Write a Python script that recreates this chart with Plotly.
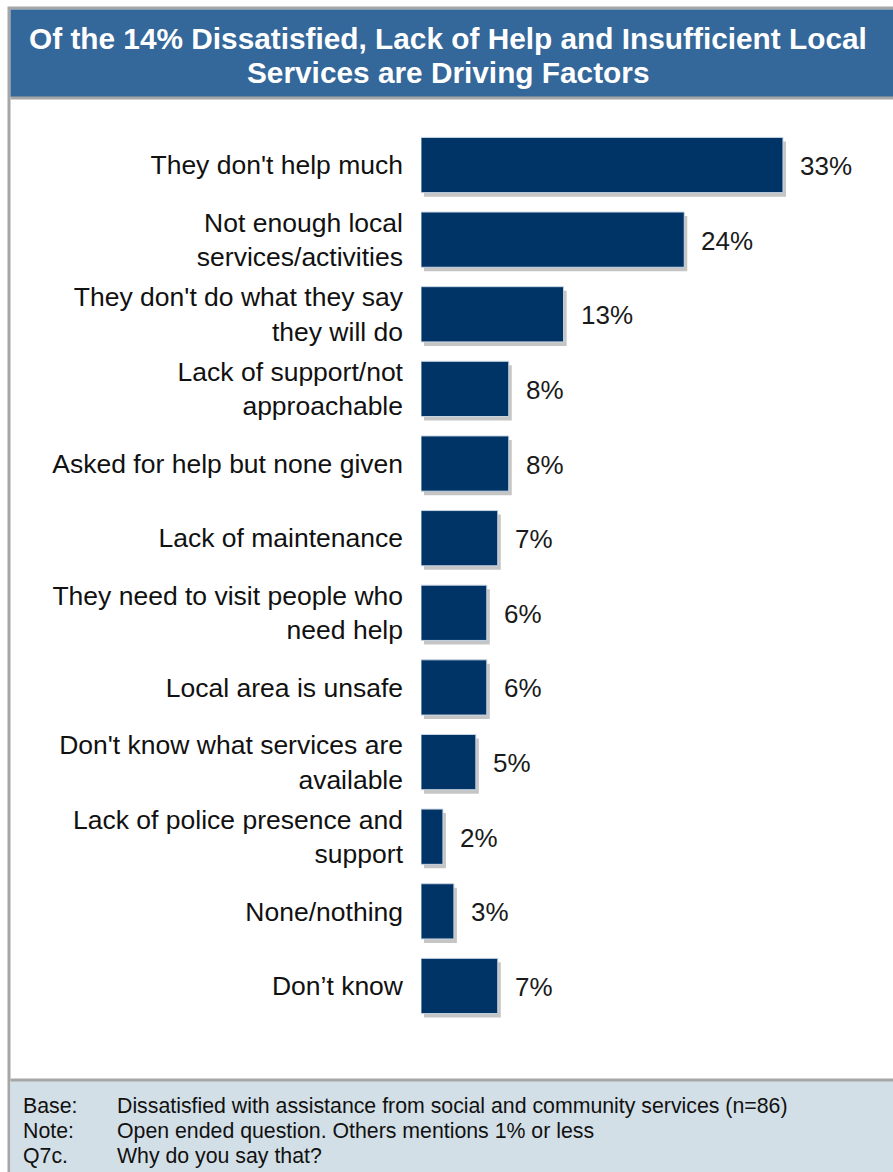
import plotly.graph_objects as go

# Survey results: reasons for dissatisfaction (percent of respondents)
categories = [
    "They don't help much",
    "Not enough local<br>services/activities",
    "They don't do what they say<br>they will do",
    "Lack of support/not<br>approachable",
    "Asked for help but none given",
    "Lack of maintenance",
    "They need to visit people who<br>need help",
    "Local area is unsafe",
    "Don't know what services are<br>available",
    "Lack of police presence and<br>support",
    "None/nothing",
    "Don\u2019t know",
]
values = [33, 24, 13, 8, 8, 7, 6, 6, 5, 2, 3, 7]

title_lines = [
    "Of the 14% Dissatisfied, Lack of Help and Insufficient Local",
    "Services are Driving Factors",
]
footer_labels = ["Base:", "Note:", "Q7c."]
footer_texts = [
    "Dissatisfied with assistance from social and community services (n=86)",
    "Open ended question. Others mentions 1% or less",
    "Why do you say that?",
]

W, H = 893, 1172
FONT = "Liberation Sans, Arial, sans-serif"
BAR = "#003366"
BAND = "#34679A"
FOOT = "#D3DFE6"
EDGE = "#A6A6A6"


def px(x):
    return min(max(x / W, 0), 1)


def py(y):
    return min(max(1 - y / H, 0), 1)


# plot area in pixels
x0, x1 = 421, 893
y_top, y_bot = 127.7, 1023.3
x_max = 43.03
scale = (x1 - x0) / x_max
shadow_dx, shadow_dy = 3, 4

fig = go.Figure()

# soft drop shadow drawn beneath the bars on a slightly offset subplot
fig.add_trace(go.Bar(
    x=values, y=categories, orientation="h",
    marker=dict(color="rgba(90,90,90,0.35)", line=dict(width=0)),
    width=0.74, xaxis="x", yaxis="y", hoverinfo="skip", showlegend=False,
))

fig.add_trace(go.Bar(
    x=values, y=categories, orientation="h",
    marker=dict(color=BAR, line=dict(color="#C9D6E3", width=1)),
    width=0.74, xaxis="x2", yaxis="y2", showlegend=False,
))

annotations = []
for c, v in zip(categories, values):
    annotations.append(dict(
        x=v, y=c, xref="x2", yref="y2", text=f"{v}%", showarrow=False,
        xanchor="left", yanchor="middle", xshift=15, yshift=-1,
        font=dict(family=FONT, size=26, color="#1a1a1a"),
    ))

footer_rows = [1106, 1131, 1156]
for lab, txt, yy in zip(footer_labels, footer_texts, footer_rows):
    annotations.append(dict(
        x=px(21), y=py(yy), xref="paper", yref="paper", text=lab,
        showarrow=False, xanchor="left", yanchor="middle",
        font=dict(family=FONT, size=21.3, color="#111111"),
    ))
    annotations.append(dict(
        x=px(115), y=py(yy), xref="paper", yref="paper", text=txt,
        showarrow=False, xanchor="left", yanchor="middle",
        font=dict(family=FONT, size=21.3, color="#111111"),
    ))

for line, yy in zip(title_lines, [38, 72]):
    annotations.append(dict(
        x=px(448), y=py(yy), xref="paper", yref="paper", text=f"<b>{line}</b>",
        showarrow=False, xanchor="center", yanchor="middle",
        font=dict(family="Liberation Sans Narrow, " + FONT, size=29.8, color="white"),
    ))

shapes = [
    # outer frame
    dict(type="rect", xref="paper", yref="paper",
         x0=9 / W, x1=1.01, y0=-0.01, y1=1 - 8 / H,
         line=dict(color=EDGE, width=3), fillcolor="white", layer="below"),
    # title band
    dict(type="rect", xref="paper", yref="paper",
         x0=10.5 / W, x1=1.01, y0=1 - 97 / H, y1=1 - 9.5 / H,
         line=dict(width=0), fillcolor=BAND, layer="below"),
    dict(type="line", xref="paper", yref="paper",
         x0=10.5 / W, x1=1.01, y0=1 - 98 / H, y1=1 - 98 / H,
         line=dict(color=EDGE, width=3), layer="below"),
    # footer band
    dict(type="rect", xref="paper", yref="paper",
         x0=10.5 / W, x1=1.01, y0=-0.01, y1=1 - 1080 / H,
         line=dict(width=0), fillcolor=FOOT, layer="below"),
    dict(type="line", xref="paper", yref="paper",
         x0=10.5 / W, x1=1.01, y0=1 - 1080 / H, y1=1 - 1080 / H,
         line=dict(color=EDGE, width=3), layer="below"),
]

axis_common = dict(showgrid=False, zeroline=False, showline=False)
fig.update_layout(
    width=W, height=H,
    margin=dict(l=0, r=0, t=0, b=0),
    paper_bgcolor="white", plot_bgcolor="rgba(0,0,0,0)",
    xaxis=dict(domain=[(x0 + shadow_dx) / W, 1],
               range=[0, (W - x0 - shadow_dx) / scale],
               visible=False, **axis_common),
    yaxis=dict(domain=[1 - (y_bot + shadow_dy) / H, 1 - (y_top + shadow_dy) / H],
               categoryorder="array", categoryarray=categories,
               range=[len(categories) - 0.5, -0.5], visible=False,
               anchor="x", **axis_common),
    xaxis2=dict(domain=[x0 / W, x1 / W], range=[0, x_max], visible=False,
                anchor="y2", **axis_common),
    yaxis2=dict(domain=[1 - y_bot / H, 1 - y_top / H],
                categoryorder="array", categoryarray=categories,
                range=[len(categories) - 0.5, -0.5], anchor="x2",
                ticks="", ticklabelstandoff=17,
                tickfont=dict(family=FONT, size=26.5, color="#111111"),
                **axis_common),
    annotations=annotations,
    shapes=shapes,
    bargap=0.26,
)

fig.write_html("out.html")
